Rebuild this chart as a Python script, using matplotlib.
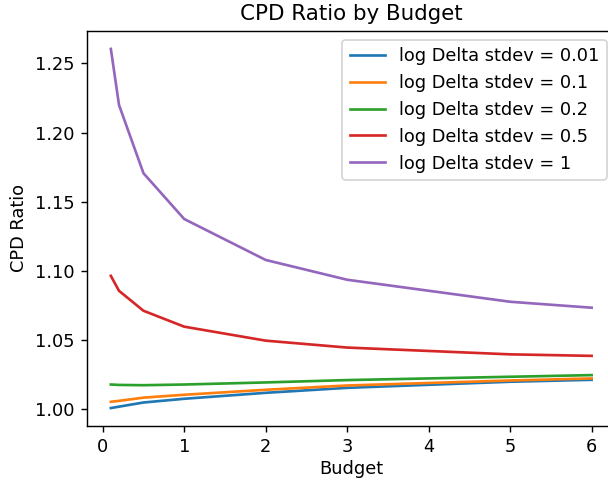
import matplotlib
matplotlib.use("Agg")
import matplotlib.pyplot as plt

# budgets on the x axis
budget = [0.1, 0.2, 0.5, 1, 2, 3, 5, 6]

# CPD ratio for each log Delta stdev
stdev_labels = ["0.01", "0.1", "0.2", "0.5", "1"]
ratio_001 = [1.0010, 1.0020, 1.0050, 1.0077, 1.0120, 1.0156, 1.0200, 1.0214]
ratio_01 = [1.0055, 1.0062, 1.0085, 1.0106, 1.0142, 1.0173, 1.0209, 1.0224]
ratio_02 = [1.0180, 1.0177, 1.0175, 1.0180, 1.0195, 1.0212, 1.0236, 1.0248]
ratio_05 = [1.0965, 1.0857, 1.0713, 1.0598, 1.0497, 1.0447, 1.0398, 1.0387]
ratio_1 = [1.2605, 1.2200, 1.1707, 1.1376, 1.1080, 1.0937, 1.0778, 1.0735]

# the original looks like default settings saved at a higher dpi, then cropped
DPI = 128
fig = plt.figure(figsize=(608 / DPI, 480 / DPI), dpi=DPI)
ax = fig.add_axes([0.1428, 0.1125, 0.8698, 0.823])

for vals, lab in zip([ratio_001, ratio_01, ratio_02, ratio_05, ratio_1], stdev_labels):
    ax.plot(budget, vals, label="log Delta stdev = " + lab)

ax.set_title("CPD Ratio by Budget")
ax.set_xlabel("Budget", labelpad=2)
ax.set_ylabel("CPD Ratio")
ax.legend(loc="upper right")

fig.savefig("out.png", dpi=DPI)
